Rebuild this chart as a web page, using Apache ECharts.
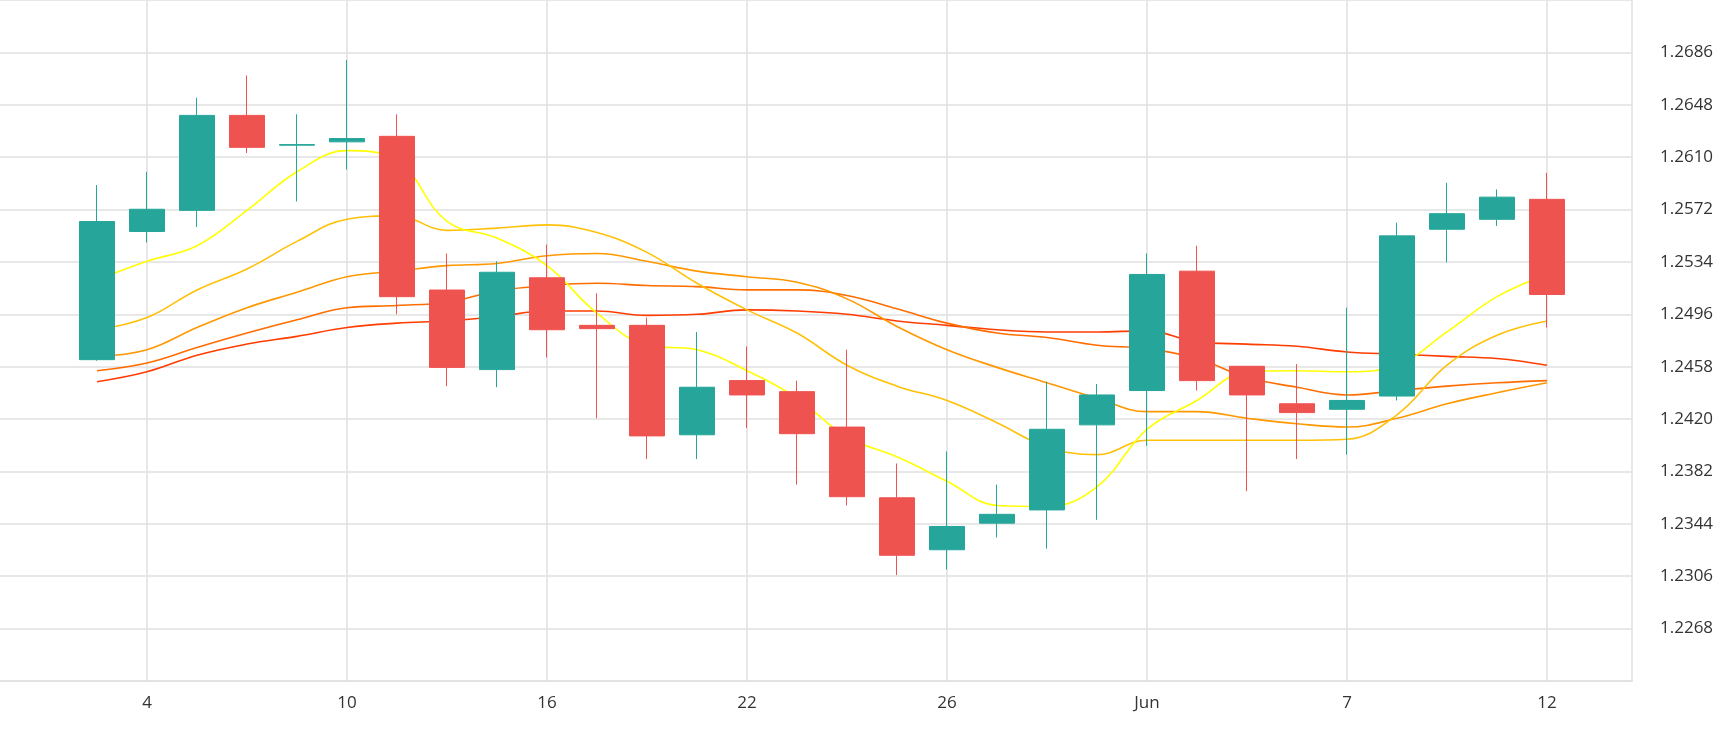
<!DOCTYPE html>
<html>
<head>
<meta charset="utf-8">
<script src="https://cdn.jsdelivr.net/npm/echarts@6/dist/echarts.min.js"></script>
<style>
  html, body { margin: 0; padding: 0; background: #fff; }
  #chart { width: 1730px; height: 730px; }
</style>
</head>
<body>
<div id="chart"></div>
<script>
// tick labels keyed by candle index
const tickIndex = [1, 5, 9, 13, 17, 21, 25, 29];
const tickText = ['4', '10', '16', '22', '26', 'Jun', '7', '12'];

// candles: open, close, low, high
const opens  = [1.24631, 1.25561, 1.25714, 1.26403, 1.26187, 1.26211, 1.26251, 1.25136, 1.24559, 1.25225,
                1.24880, 1.24880, 1.24086, 1.24479, 1.24399, 1.24142, 1.23629, 1.23252, 1.23445, 1.23541,
                1.24158, 1.24407, 1.25273, 1.24583, 1.24311, 1.24271, 1.24367, 1.25577, 1.25649, 1.25794];
const closes = [1.25633, 1.25722, 1.26403, 1.26171, 1.26191, 1.26235, 1.25088, 1.24575, 1.25265, 1.24848,
                1.24856, 1.24078, 1.24431, 1.24375, 1.24094, 1.23637, 1.23212, 1.23421, 1.23509, 1.24126,
                1.24375, 1.25249, 1.24479, 1.24375, 1.24247, 1.24335, 1.25529, 1.25690, 1.25810, 1.25104];
const lows   = [1.24623, 1.25481, 1.25593, 1.26130, 1.25778, 1.26010, 1.24960, 1.24439, 1.24431, 1.24647,
                1.24206, 1.23910, 1.23910, 1.24134, 1.23725, 1.23573, 1.23068, 1.23108, 1.23341, 1.23260,
                1.23469, 1.24006, 1.24407, 1.23677, 1.23910, 1.23942, 1.24335, 1.25337, 1.25601, 1.24864];
const highs  = [1.25898, 1.25994, 1.26531, 1.26692, 1.26411, 1.26804, 1.26411, 1.25401, 1.25345, 1.25465,
                1.25112, 1.24936, 1.24832, 1.24727, 1.24479, 1.24703, 1.23878, 1.23966, 1.23725, 1.24471,
                1.24455, 1.25401, 1.25457, 1.24583, 1.24599, 1.25008, 1.25625, 1.25914, 1.25866, 1.25986];

// smoothed averages
const ma1 = [1.25209, 1.25345, 1.25457, 1.25714, 1.25994, 1.26147, 1.26075, 1.25634, 1.25513, 1.25313,
             1.24968, 1.24736, 1.24703, 1.24551, 1.24351, 1.24070, 1.23926, 1.23749, 1.23573, 1.23565,
             1.23709, 1.24126, 1.24335, 1.24543, 1.24551, 1.24543, 1.24591, 1.24832, 1.25088, 1.25249];
const ma2 = [1.24848, 1.24936, 1.25137, 1.25289, 1.25489, 1.25650, 1.25674, 1.25569, 1.25585, 1.25609,
             1.25553, 1.25409, 1.25185, 1.24992, 1.24824, 1.24591, 1.24439, 1.24335, 1.24174, 1.23998,
             1.23942, 1.24046, 1.24046, 1.24046, 1.24046, 1.24054, 1.24231, 1.24591, 1.24808, 1.24912];
const ma3 = [1.24655, 1.24703, 1.24864, 1.25008, 1.25120, 1.25233, 1.25273, 1.25313, 1.25329, 1.25385,
             1.25401, 1.25345, 1.25273, 1.25233, 1.25193, 1.25072, 1.24872, 1.24703, 1.24575, 1.24463,
             1.24351, 1.24254, 1.24254, 1.24206, 1.24166, 1.24142, 1.24206, 1.24311, 1.24391, 1.24463];
const ma4 = [1.24551, 1.24607, 1.24719, 1.24824, 1.24920, 1.25008, 1.25024, 1.25048, 1.25129, 1.25169,
             1.25185, 1.25169, 1.25161, 1.25137, 1.25137, 1.25097, 1.25000, 1.24896, 1.24824, 1.24792,
             1.24736, 1.24711, 1.24639, 1.24503, 1.24431, 1.24375, 1.24407, 1.24439, 1.24463, 1.24479];
const ma5 = [1.24471, 1.24543, 1.24663, 1.24744, 1.24800, 1.24864, 1.24896, 1.24912, 1.24944, 1.24984,
             1.24984, 1.24952, 1.24960, 1.24992, 1.24984, 1.24960, 1.24912, 1.24880, 1.24848, 1.24832,
             1.24832, 1.24840, 1.24760, 1.24744, 1.24728, 1.24687, 1.24671, 1.24655, 1.24639, 1.24591];

const maColors = ['#ffff00', '#ffc107', '#ff9800', '#ff6d00', '#ff3d00'];

const candleData = opens.map((o, i) => [i, o, closes[i], lows[i], highs[i]]);
const lineOf = arr => arr.map((v, i) => [i, v]);

const myChart = echarts.init(document.getElementById('chart'));

const option = {
  animation: false,
  grid: { left: 0, right: 98, top: 0, bottom: 49 },
  xAxis: {
    type: 'value',
    min: -1.94,
    max: 30.70,
    axisLine: { show: true, onZero: false, lineStyle: { color: '#e0e0e0', width: 1.5 } },
    axisTick: { show: true, length: 0, customValues: tickIndex },
    axisLabel: {
      customValues: tickIndex,
      formatter: v => tickText[tickIndex.indexOf(Math.round(v))] || '',
      color: '#333', fontSize: 17, fontFamily: 'Open Sans', margin: 14
    },
    splitLine: { show: true, lineStyle: { color: '#e0e0e0', width: 1.5 } }
  },
  yAxis: {
    type: 'value',
    position: 'right',
    scale: true,
    min: 1.2230,
    max: 1.2724,
    interval: 0.0038,
    axisLine: { show: true, onZero: false, lineStyle: { color: '#e0e0e0', width: 1.5 } },
    axisTick: { show: false },
    axisLabel: {
      showMinLabel: false, showMaxLabel: false,
      formatter: v => v.toFixed(4),
      color: '#333', fontSize: 17, fontFamily: 'Open Sans', margin: 28
    },
    splitLine: { lineStyle: { color: '#e0e0e0', width: 1.5 } }
  },
  series: [
    ...[ma5, ma4, ma3, ma2, ma1].map((arr, k) => ({
      type: 'line',
      data: lineOf(arr),
      smooth: 0.4,
      symbol: 'none',
      lineStyle: { color: maColors[4 - k], width: 1.6 },
      z: 2
    })),
    {
      type: 'candlestick',
      data: candleData,
      barWidth: 35,
      itemStyle: {
        color: '#26a69a', color0: '#ef5350',
        borderColor: '#26a69a', borderColor0: '#ef5350', borderWidth: 1
      },
      z: 3
    }
  ]
};

myChart.setOption(option);
</script>
</body>
</html>
